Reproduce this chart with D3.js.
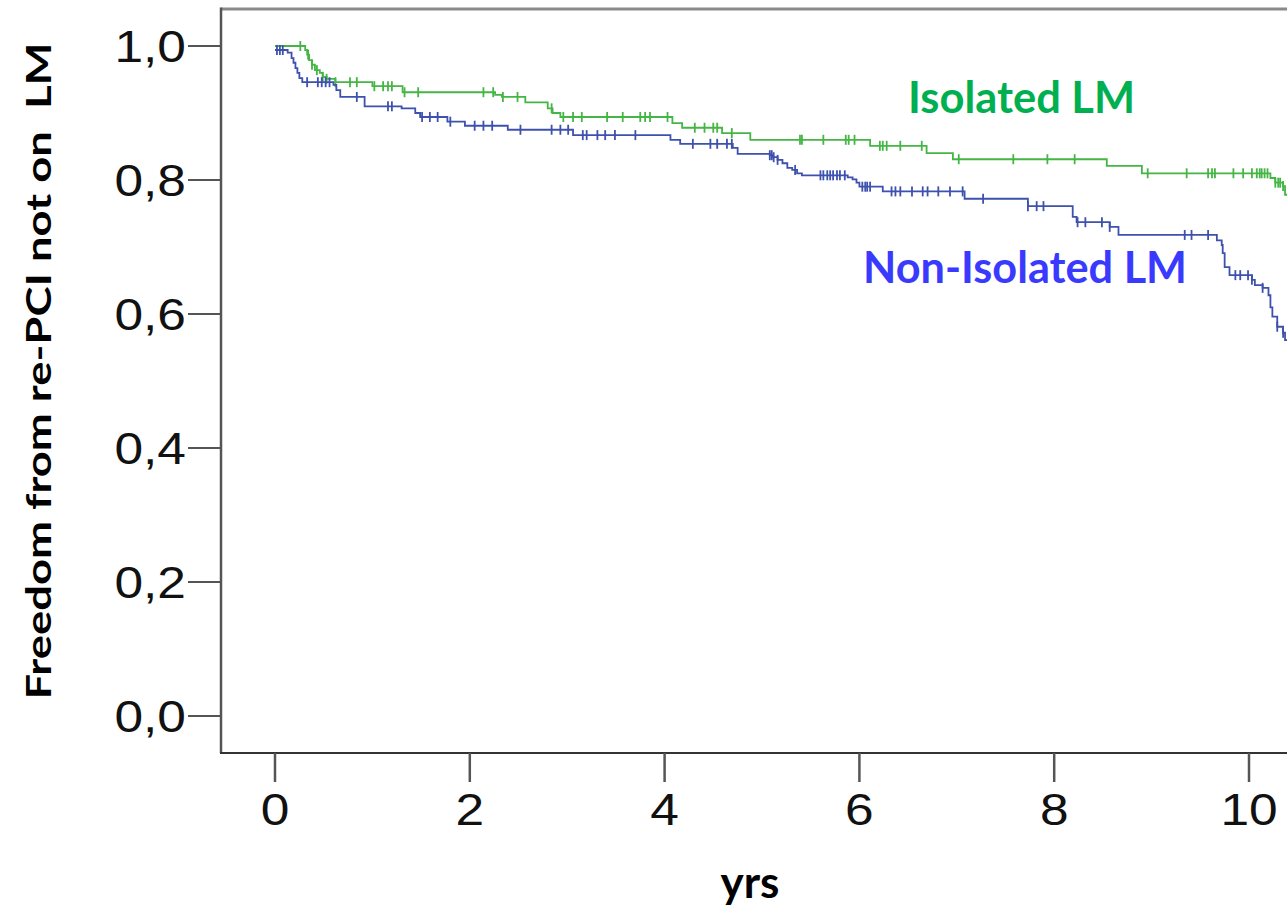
<!DOCTYPE html>
<html>
<head>
<meta charset="utf-8">
<script src="https://cdn.jsdelivr.net/npm/d3@7"></script>
<style>
  body { margin: 0; background: #fff; }
  svg { display: block; }
  .lbl { font-family: Lato, "Open Sans", sans-serif; font-weight: bold; white-space: pre; }
  .tick-lbl { font-family: "Liberation Sans", Arial, sans-serif; font-size: 44px; fill: #111; }
</style>
</head>
<body>
<div id="chart"></div>
<script>
// x axis ticks (years) and y axis ticks
var xTicks = [0, 2, 4, 6, 8, 10];
var yTicks = [0, 0.2, 0.4, 0.6, 0.8, 1.0];

// Isolated LM : step times and survival after each step
var greenStart = 1.0;
var greenTimes = [0.31, 0.33, 0.35, 0.38, 0.41, 0.46, 0.49, 0.53, 0.62, 1.00, 1.31, 2.26, 2.33, 2.57, 2.80, 2.85, 2.93,
  4.08, 4.18, 4.59, 4.88, 6.11, 6.69, 6.96, 8.54, 8.90, 10.22, 10.27, 10.35, 10.37];
var greenSurv = [0.994, 0.987, 0.979, 0.972, 0.964, 0.960, 0.954, 0.951, 0.946, 0.940, 0.931, 0.927, 0.924, 0.916, 0.907, 0.900, 0.894,
  0.885, 0.878, 0.870, 0.860, 0.851, 0.840, 0.831, 0.821, 0.810, 0.803, 0.796, 0.791, 0.778];
var greenCensor = [0.26, 0.34, 0.38, 0.43, 0.49, 0.53, 0.62, 0.77, 0.84, 1.02, 1.11, 1.16, 1.20, 1.33, 1.47, 2.14, 2.24, 2.34, 2.49,
  2.84, 2.96, 3.06, 3.15, 3.41, 3.57, 3.75, 3.80, 3.85, 4.03, 4.31, 4.41, 4.50, 4.54, 4.69, 5.39, 5.41, 5.63, 5.86, 5.89, 5.95,
  6.21, 6.24, 6.28, 6.42, 6.64, 7.02, 7.58, 7.93, 8.21, 8.96, 9.36, 9.58, 9.62, 9.65, 9.84, 9.94, 10.03, 10.08, 10.11, 10.13,
  10.16, 10.19, 10.27, 10.30, 10.32, 10.35, 10.40];

// Non-Isolated LM
var blueStart = 0.994;
var blueTimes = [0.13, 0.17, 0.19, 0.21, 0.23, 0.25, 0.28, 0.60, 0.63, 0.67, 0.92, 1.30, 1.44, 1.49, 1.77, 1.95, 2.39, 3.06,
  4.06, 4.16, 4.70, 4.75, 5.08, 5.11, 5.16, 5.21, 5.26, 5.31, 5.36, 5.41, 5.88, 5.93, 5.97, 6.00, 6.24, 7.08, 7.73, 8.19, 8.23,
  8.57, 8.66, 9.67, 9.72, 9.73, 9.75, 9.80, 10.03, 10.06, 10.14, 10.20, 10.22, 10.24, 10.29, 10.35, 10.37];
var blueSurv = [0.990, 0.982, 0.975, 0.967, 0.960, 0.952, 0.946, 0.942, 0.934, 0.924, 0.910, 0.907, 0.900, 0.894, 0.887, 0.881, 0.875, 0.867,
  0.860, 0.854, 0.848, 0.839, 0.837, 0.834, 0.830, 0.825, 0.818, 0.815, 0.810, 0.807, 0.804, 0.801, 0.796, 0.790, 0.783, 0.772, 0.761, 0.745, 0.737,
  0.730, 0.718, 0.710, 0.703, 0.691, 0.670, 0.658, 0.651, 0.643, 0.639, 0.628, 0.610, 0.596, 0.581, 0.572, 0.561];
var blueCensor = [0.02, 0.05, 0.08, 0.33, 0.44, 0.48, 0.52, 0.56, 0.84, 1.16, 1.20, 1.51, 1.59, 1.67, 1.80, 2.05, 2.14, 2.23,
  2.52, 2.84, 2.93, 3.01, 3.16, 3.20, 3.31, 3.39, 3.49, 3.70, 4.29, 4.47, 4.54, 4.64, 4.69, 5.08, 5.10, 5.12, 5.16, 5.34,
  5.60, 5.63, 5.67, 5.70, 5.73, 5.77, 5.80, 5.85, 6.03, 6.06, 6.08, 6.11, 6.33, 6.37, 6.42, 6.54, 6.65, 6.70, 6.81, 6.93,
  7.06, 7.27, 7.73, 7.82, 7.89, 8.24, 8.32, 8.49, 8.57, 9.34, 9.41, 9.58, 9.86, 9.91, 9.99, 10.03, 10.14, 10.29, 10.35];

var tEnd = 10.6;

var width = 1287, height = 915;
var plotL = 221, plotT = 9, plotB = 753, plotR = 1300;

var x = d3.scaleLinear().domain([0, 10]).range([275, 1249]);
var y = d3.scaleLinear().domain([0, 1]).range([716, 46]);

var svg = d3.select("#chart").append("svg")
  .attr("width", width).attr("height", height);

svg.append("clipPath").attr("id", "plot")
  .append("rect").attr("x", plotL).attr("y", plotT).attr("width", plotR - plotL).attr("height", plotB - plotT);

// frame
svg.append("line").attr("x1", plotL).attr("x2", width).attr("y1", plotT).attr("y2", plotT)
  .attr("stroke", "#8a8a8a").attr("stroke-width", 3);
svg.append("line").attr("x1", plotL).attr("x2", plotL).attr("y1", plotT - 1.5).attr("y2", plotB)
  .attr("stroke", "#555").attr("stroke-width", 2.5);
svg.append("line").attr("x1", plotL - 1).attr("x2", width).attr("y1", plotB).attr("y2", plotB)
  .attr("stroke", "#333").attr("stroke-width", 2);

// y ticks
yTicks.forEach(function(t) {
  svg.append("line").attr("x1", 188).attr("x2", plotL).attr("y1", y(t)).attr("y2", y(t))
    .attr("stroke", "#555").attr("stroke-width", 2);
  svg.append("text").attr("class", "tick-lbl")
    .attr("transform", "translate(186," + (y(t) + 16) + ") scale(1.17,1)")
    .attr("text-anchor", "end")
    .text(d3.format(".1f")(t).replace(".", ","));
});

// x ticks
xTicks.forEach(function(t) {
  svg.append("line").attr("x1", x(t)).attr("x2", x(t)).attr("y1", plotB).attr("y2", 782)
    .attr("stroke", "#555").attr("stroke-width", 2.5);
  svg.append("text").attr("class", "tick-lbl")
    .attr("transform", "translate(" + x(t) + ",825) scale(1.17,1)")
    .attr("text-anchor", "middle")
    .text(t);
});

var plot = svg.append("g").attr("clip-path", "url(#plot)");

var line = d3.line()
  .x(function(d) { return x(d[0]); })
  .y(function(d) { return y(d[1]); })
  .curve(d3.curveStepAfter);

function drawCurve(start, times, surv, censor, color) {
  var pts = [[0, start]];
  times.forEach(function(t, i) { pts.push([t, surv[i]]); });
  pts.push([tEnd, surv[surv.length - 1]]);

  plot.append("path").attr("d", line(pts))
    .attr("fill", "none").attr("stroke", color).attr("stroke-width", 1.8);

  var bis = d3.bisector(function(d) { return d[0]; }).right;
  plot.selectAll(null).data(censor).enter().append("line")
    .attr("x1", function(d) { return x(d); })
    .attr("x2", function(d) { return x(d); })
    .attr("y1", function(d) { return y(pts[bis(pts, d) - 1][1]) - 5; })
    .attr("y2", function(d) { return y(pts[bis(pts, d) - 1][1]) + 5; })
    .attr("stroke", color).attr("stroke-width", 1.8);
}

drawCurve(greenStart, greenTimes, greenSurv, greenCensor, "#45b545");
drawCurve(blueStart, blueTimes, blueSurv, blueCensor, "#3d51ad");

// labels
svg.append("text").attr("class", "lbl")
  .attr("x", 908).attr("y", 113).attr("font-size", 43)
  .attr("textLength", 227).attr("lengthAdjust", "spacingAndGlyphs")
  .attr("fill", "#00b050").text("Isolated LM");

svg.append("text").attr("class", "lbl")
  .attr("x", 863).attr("y", 283).attr("font-size", 43)
  .attr("textLength", 324).attr("lengthAdjust", "spacingAndGlyphs")
  .attr("fill", "#3a3aff").text("Non-Isolated LM");

svg.append("text").attr("class", "lbl")
  .attr("transform", "translate(51,371) rotate(-90)")
  .attr("text-anchor", "middle").attr("font-size", 34)
  .attr("textLength", 657).attr("lengthAdjust", "spacingAndGlyphs")
  .attr("fill", "#000").text("Freedom from re-PCI not on  LM");

svg.append("text").attr("class", "lbl")
  .attr("x", 750).attr("y", 898).attr("text-anchor", "middle").attr("font-size", 44)
  .attr("fill", "#000").text("yrs");
</script>
</body>
</html>
